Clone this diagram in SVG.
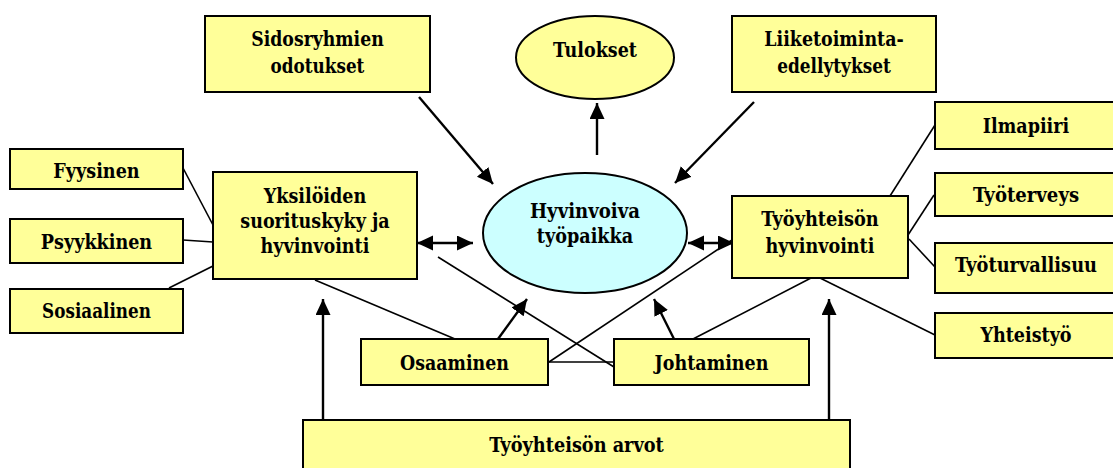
<svg xmlns="http://www.w3.org/2000/svg" width="1113" height="468" viewBox="0 0 1113 468">
<style>
.box{fill:#FFFF99;stroke:#000;stroke-width:2}
.ell{fill:#FFFF99;stroke:#000;stroke-width:2}
.hub{fill:#CCFFFF;stroke:#000;stroke-width:2}
.t{font-family:'DejaVu Serif',serif;font-weight:bold;font-size:21px;fill:#000;text-anchor:middle}
.ln{stroke:#000;stroke-width:1.6;fill:none}
.ar{stroke:#000;stroke-width:2.4;fill:none;marker-end:url(#ah)}
.dbl{stroke:#000;stroke-width:2.4;fill:none;marker-end:url(#ah);marker-start:url(#ah)}
</style>
<defs>
<marker id="ah" markerUnits="userSpaceOnUse" markerWidth="17" markerHeight="16" refX="16" refY="7.5" orient="auto-start-reverse">
<path d="M0,0 L16,7.5 L0,15 z" fill="#000"/>
</marker>
</defs>
<rect width="1113" height="468" fill="#fff"/>
<g id="connectors">
<line class="ln" x1="183" y1="168" x2="213" y2="225"/>
<line class="ln" x1="183" y1="240" x2="213" y2="242"/>
<line class="ln" x1="169" y1="288" x2="213" y2="266"/>
<line class="ln" x1="315" y1="280" x2="455" y2="339"/>
<line class="ln" x1="438" y1="257" x2="614" y2="367"/>
<line class="ln" x1="549" y1="362" x2="732" y2="240"/>
<line class="ln" x1="548" y1="362" x2="614" y2="362"/>
<line class="ln" x1="693" y1="339" x2="811" y2="278"/>
<line class="ln" x1="820" y1="278" x2="935" y2="335"/>
<line class="ln" x1="935" y1="125" x2="890" y2="196"/>
<line class="ln" x1="934" y1="195" x2="908" y2="235"/>
<line class="ln" x1="909" y1="239" x2="935" y2="267"/>
<line class="ar" x1="419" y1="97" x2="493" y2="184"/>
<line class="ar" x1="754" y1="102" x2="675" y2="183"/>
<line class="ar" x1="597" y1="155" x2="597" y2="103"/>
<line class="dbl" x1="417" y1="243" x2="473" y2="243"/>
<line class="dbl" x1="688" y1="243" x2="734" y2="243"/>
<line class="ar" x1="498" y1="339" x2="527" y2="299"/>
<line class="ar" x1="674" y1="339" x2="654" y2="299"/>
<line class="ar" x1="323" y1="420" x2="323" y2="299"/>
<line class="ar" x1="829" y1="420" x2="829" y2="299"/>
</g>
<g id="sidosryhmien">
<rect class="box" x="205" y="16" width="225" height="76"/>
<text class="t" x="317.5" y="46" textLength="132.5" lengthAdjust="spacingAndGlyphs">Sidosryhmien</text>
<text class="t" x="317.5" y="73" textLength="93.8" lengthAdjust="spacingAndGlyphs">odotukset</text>
</g>
<g id="tulokset">
<ellipse class="ell" cx="595" cy="57.5" rx="79" ry="41.5"/>
<text class="t" x="595" y="57" textLength="83.8" lengthAdjust="spacingAndGlyphs">Tulokset</text>
</g>
<g id="liiketoiminta">
<rect class="box" x="732" y="16" width="204" height="76"/>
<text class="t" x="834" y="46" textLength="139.5" lengthAdjust="spacingAndGlyphs">Liiketoiminta-</text>
<text class="t" x="834" y="73" textLength="113.7" lengthAdjust="spacingAndGlyphs">edellytykset</text>
</g>
<g id="ilmapiiri">
<rect class="box" x="935" y="102" width="182" height="47"/>
<text class="t" x="1026" y="133" textLength="86.3" lengthAdjust="spacingAndGlyphs">Ilmapiiri</text>
</g>
<g id="tyoterveys">
<rect class="box" x="935" y="173" width="182" height="43"/>
<text class="t" x="1026" y="202" textLength="106.2" lengthAdjust="spacingAndGlyphs">Työterveys</text>
</g>
<g id="tyoturvallisuu">
<rect class="box" x="935" y="243" width="182" height="50"/>
<text class="t" x="1026" y="272" textLength="142" lengthAdjust="spacingAndGlyphs">Työturvallisuu</text>
</g>
<g id="yhteistyo">
<rect class="box" x="935" y="313" width="182" height="45"/>
<text class="t" x="1026" y="342" textLength="91.2" lengthAdjust="spacingAndGlyphs">Yhteistyö</text>
</g>
<g id="tyoyhteison-hyvinvointi">
<rect class="box" x="732" y="196" width="176" height="82"/>
<text class="t" x="820" y="226" textLength="117.5" lengthAdjust="spacingAndGlyphs">Työyhteisön</text>
<text class="t" x="820" y="253" textLength="108.8" lengthAdjust="spacingAndGlyphs">hyvinvointi</text>
</g>
<g id="hyvinvoiva-tyopaikka">
<ellipse class="hub" cx="585" cy="233" rx="102" ry="60"/>
<text class="t" x="585" y="218" textLength="110" lengthAdjust="spacingAndGlyphs">Hyvinvoiva</text>
<text class="t" x="585" y="243" textLength="96.3" lengthAdjust="spacingAndGlyphs">työpaikka</text>
</g>
<g id="yksiloiden">
<rect class="box" x="213" y="172" width="204" height="107"/>
<text class="t" x="315" y="203" textLength="102.5" lengthAdjust="spacingAndGlyphs">Yksilöiden</text>
<text class="t" x="315" y="228" textLength="149.4" lengthAdjust="spacingAndGlyphs">suorituskyky ja</text>
<text class="t" x="315" y="253" textLength="108.8" lengthAdjust="spacingAndGlyphs">hyvinvointi</text>
</g>
<g id="fyysinen">
<rect class="box" x="10" y="149" width="173" height="40"/>
<text class="t" x="96.5" y="178" textLength="86.3" lengthAdjust="spacingAndGlyphs">Fyysinen</text>
</g>
<g id="psyykkinen">
<rect class="box" x="10" y="219" width="173" height="44"/>
<text class="t" x="96.5" y="249" textLength="111.3" lengthAdjust="spacingAndGlyphs">Psyykkinen</text>
</g>
<g id="sosiaalinen">
<rect class="box" x="10" y="289" width="173" height="44"/>
<text class="t" x="96.5" y="318" textLength="108.8" lengthAdjust="spacingAndGlyphs">Sosiaalinen</text>
</g>
<g id="osaaminen">
<rect class="box" x="361" y="339" width="187" height="46"/>
<text class="t" x="454.5" y="370" textLength="108.8" lengthAdjust="spacingAndGlyphs">Osaaminen</text>
</g>
<g id="johtaminen">
<rect class="box" x="614" y="339" width="195" height="46"/>
<text class="t" x="711.5" y="370" textLength="113.8" lengthAdjust="spacingAndGlyphs">Johtaminen</text>
</g>
<g id="tyoyhteison-arvot">
<rect class="box" x="303" y="420" width="547" height="60"/>
<text class="t" x="576.5" y="452" textLength="174.4" lengthAdjust="spacingAndGlyphs">Työyhteisön arvot</text>
</g>
</svg>
